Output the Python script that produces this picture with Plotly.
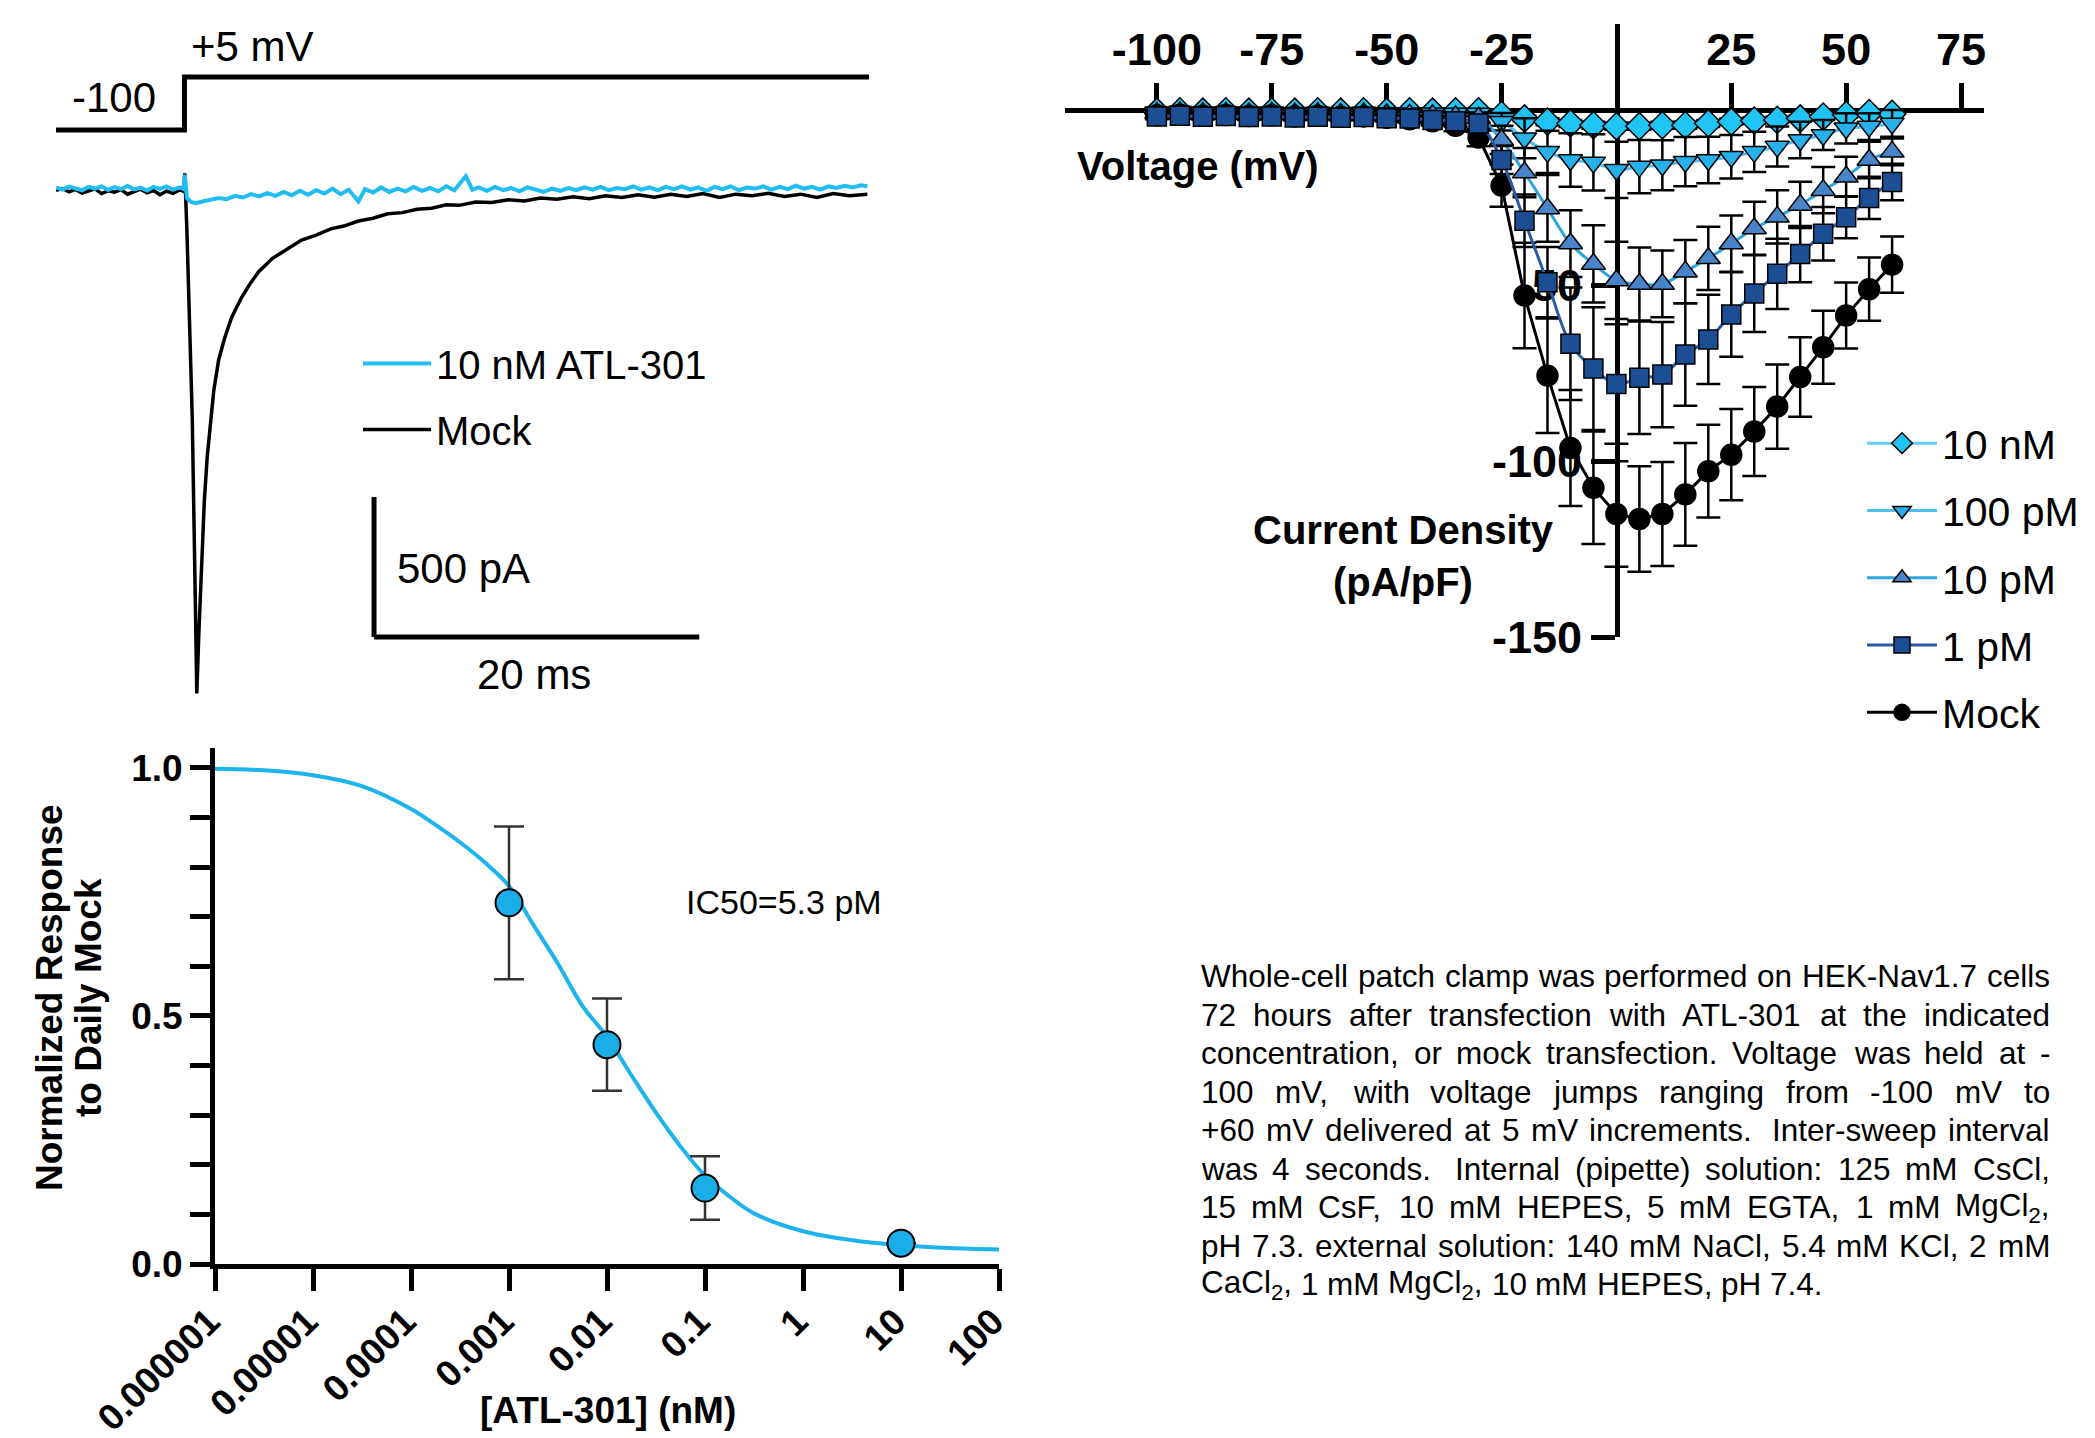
import re
import plotly.graph_objects as go

# page body has an 8px margin; figure is sized to fit the 2095x1438 window exactly
OFF = 8
W, H = 2095 - OFF, 1438 - OFF
def px(x): return (x - OFF) / W
def py(y): return 1 - (y - OFF) / H

FONT = "Liberation Sans, Arial, Helvetica, sans-serif"
CYAN = "#1fbdf2"

# ---------------- Panel A: current traces ----------------
protocol_t = [0, 7.9, 7.9, 50]
protocol_mv = [-100, -100, 5, 5]

mock_t = [0.0, 0.4, 0.8, 1.2, 1.6, 2.0, 2.4, 2.8, 3.2, 3.6, 4.0, 4.4, 4.8, 5.2, 5.6, 6.0, 6.4, 6.8, 7.2, 7.6, 7.85,
          7.92, 8.05, 8.2, 8.38, 8.56, 8.66, 8.78, 8.95, 9.12, 9.3, 9.5, 9.7, 10.0, 10.35, 10.8, 11.4, 11.9, 12.45,
          13.3, 14.2, 15.1, 16.0, 16.9, 17.7, 18.6, 19.5, 20.4, 21.3, 22.2, 23.1, 24.0, 24.8, 25.8, 26.8, 27.8, 28.8,
          29.8, 30.8, 31.8, 32.8, 33.8, 34.8, 35.8, 36.8, 37.8, 38.8, 39.8, 40.8, 41.8, 42.8, 43.8, 44.8, 45.8, 46.8,
          47.8, 48.8, 49.9]
mock_pa = [-8, -2, -14, -5, -18, -9, -3, -20, -10, -15, -6, -22, -12, -4, -17, -9, -24, -11, -19, -7, -12,
           52, -150, -480, -820, -1450, -1805, -1600, -1330, -1120, -960, -830, -725, -615, -540, -462, -392, -345, -300,
           -252, -218, -186, -168, -146, -136, -118, -108, -92, -88, -76, -72, -60, -62, -50, -52, -42, -46,
           -36, -40, -31, -38, -28, -34, -24, -33, -22, -30, -20, -34, -22, -28, -19, -30, -22, -34,
           -20, -28, -22]

atl_t = [0.0, 0.4, 0.8, 1.2, 1.6, 2.0, 2.4, 2.8, 3.2, 3.6, 4.0, 4.4, 4.8, 5.2, 5.6, 6.0, 6.4, 6.8, 7.2, 7.6, 7.85,
         7.92, 8.05, 8.3, 8.6, 9.0, 9.5, 10.0, 10.5, 11.0, 11.5, 12.0, 12.5, 13.0, 13.5, 14.0, 14.5, 15.0, 15.5, 16.0,
         16.5, 17.0, 17.5, 18.0, 18.6, 19.0, 19.5, 20.0, 20.5, 21.0, 21.5, 22.0, 22.5, 23.0, 23.5, 24.0, 24.5, 25.2,
         25.6, 26.0, 26.5, 27.0, 27.5, 28.0, 28.5, 29.0, 29.5, 30.0, 30.5, 31.0, 31.5, 32.0, 32.5, 33.0, 33.5, 34.0,
         34.5, 35.0, 35.5, 36.0, 36.5, 37.0, 37.5, 38.0, 38.5, 39.0, 39.5, 40.0, 40.5, 41.0, 41.5, 42.0, 42.5, 43.0,
         43.5, 44.0, 44.5, 45.0, 45.5, 46.0, 46.5, 47.0, 47.5, 48.0, 48.5, 49.0, 49.5, 49.9]
atl_pa = [2, -6, 5, -3, -8, 4, -2, 6, -7, 3, -4, 7, -5, 1, -9, 4, -3, 6, -6, 2, -4,
          48, -35, -50, -54, -48, -42, -36, -40, -28, -34, -22, -30, -18, -28, -14, -26, -10, -24, -8,
          -20, -2, -22, -6, -48, -4, -16, 2, -14, -2, -12, 4, -10, 0, -12, 6, -8, 42,
          -6, 2, -10, 4, -8, 0, -12, 2, -6, -14, -2, -10, 0, -8, 2, -6, 4, -8,
          0, -4, 6, -6, 2, -8, 4, -4, 6, -6, 2, -10, 4, -4, 6, -8, 2, -2,
          6, -6, 4, -4, 8, -2, 4, -6, 6, 0, 8, 2, 10, 6]

# ---------------- Panel B: I-V curves ----------------
voltage = [-100, -95, -90, -85, -80, -75, -70, -65, -60, -55, -50, -45, -40, -35,
           -30, -25, -20, -15, -10, -5, 0, 5, 10, 15, 20, 25, 30, 35, 40, 45, 50, 55, 60]
iv_mock = [-1.5, -1.3, -1.6, -1.4, -1.7, -1.5, -1.8, -1.6, -1.9, -1.8, -2.2, -2.6, -3.2, -4.5,
           -7.8, -21.5, -52.8, -75.6, -96.2, -107.5, -115.0, -116.4, -115.0, -109.4, -102.8, -98.1, -91.5,
           -84.4, -76.0, -67.5, -58.5, -51.0, -44.0]
iv_mock_err = [0.8, 0.8, 0.8, 0.8, 0.8, 0.8, 0.8, 0.8, 0.8, 0.8, 0.9, 1.0, 1.2, 1.5,
               2.5, 6.0, 15.0, 16.3, 16.5, 16.0, 15.0, 15.0, 14.8, 14.6, 13.2, 13.0, 12.7, 12.0, 11.3, 10.4, 9.4,
               9.0, 8.0]
iv_1pm = [-1.8, -1.6, -1.9, -1.7, -2.0, -1.8, -2.1, -1.9, -2.2, -2.0, -2.3, -2.4, -2.8, -3.2,
          -3.8, -14.2, -31.5, -49.0, -66.5, -73.6, -78.0, -76.2, -75.3, -69.6, -65.3, -58.2, -52.2, -46.6,
          -41.0, -35.2, -30.5, -25.0, -20.5]
iv_1pm_err = [0.8, 0.8, 0.8, 0.8, 0.8, 0.8, 0.8, 0.8, 0.8, 0.8, 0.9, 1.0, 1.2, 1.5,
              2.0, 4.0, 7.5, 10.0, 16.0, 17.5, 17.0, 16.0, 15.0, 14.6, 12.7, 12.0, 11.0, 10.0, 8.0, 7.6, 6.0,
              6.0, 5.2]
iv_10pm = [-0.8, -0.7, -0.9, -0.8, -1.0, -0.8, -1.0, -0.9, -1.1, -1.0, -1.2, -1.3, -1.5, -1.8,
           -2.2, -8.5, -17.8, -28.0, -38.0, -43.8, -48.5, -49.5, -49.5, -46.0, -42.2, -38.0, -33.7, -30.4,
           -27.0, -22.8, -19.0, -14.2, -11.9]
iv_10pm_err = [0.6, 0.6, 0.6, 0.6, 0.6, 0.6, 0.6, 0.6, 0.6, 0.6, 0.7, 0.8, 0.9, 1.0,
               1.5, 4.0, 7.0, 9.5, 9.5, 11.0, 11.0, 10.4, 9.5, 9.0, 9.0, 8.0, 7.6, 7.6, 6.6, 6.6, 5.7, 5.2, 3.8]
iv_100pm = [-0.6, -0.5, -0.7, -0.6, -0.7, -0.6, -0.8, -0.7, -0.8, -0.7, -0.8, -0.9, -0.9, -1.0,
            -1.0, -3.3, -8.0, -11.9, -14.2, -14.9, -17.0, -16.1, -15.7, -14.7, -14.2, -13.3, -11.9, -10.4,
            -8.5, -7.1, -5.2, -4.7, -3.8]
iv_100pm_err = [0.5, 0.5, 0.5, 0.5, 0.5, 0.5, 0.5, 0.5, 0.5, 0.5, 0.5, 0.6, 0.6, 0.7,
                1.0, 2.5, 5.7, 6.0, 7.6, 8.0, 8.0, 7.6, 7.1, 7.0, 6.6, 6.2, 5.7, 5.7, 5.2, 4.3, 4.3, 3.8, 3.8]
iv_10nm = [-0.5, -0.4, -0.5, -0.4, -0.5, -0.4, -0.5, -0.4, -0.5, -0.4, -0.5, -0.4, -0.5, -0.4,
           -0.4, -1.4, -2.4, -3.3, -3.8, -4.3, -4.6, -4.6, -4.3, -4.3, -3.8, -3.3, -3.0, -2.8, -2.4, -1.9,
           -1.4, -0.9, -1.1]
iv_10nm_err = [0.3, 0.3, 0.3, 0.3, 0.3, 0.3, 0.3, 0.3, 0.3, 0.3, 0.3, 0.3, 0.3, 0.3,
               0.4, 0.6, 0.8, 1.0, 1.0, 1.0, 1.0, 1.0, 1.0, 1.0, 1.0, 0.9, 0.9, 0.9, 0.8, 0.8, 0.7, 0.7, 0.6]
iv_xticks = [-100, -75, -50, -25, 25, 50, 75]
iv_xticktext = ["-100", "-75", "-50", "-25", "25", "50", "75"]
iv_yticks = [-50, -100, -150]
iv_yticktext = ["-50", "-100", "-150"]

# ---------------- Panel C: dose-response ----------------
dose_x = [0.001, 0.01, 0.1, 10]
dose_y = [0.728, 0.442, 0.153, 0.042]
dose_err = [0.154, 0.093, 0.064, 0.0]
fit_x = [1e-6, 3.16e-6, 1e-5, 3.16e-5, 1e-4, 1.78e-4, 3.16e-4, 5.62e-4, 1e-3, 1.78e-3, 3.16e-3, 5.62e-3,
         1e-2, 1.78e-2, 3.16e-2, 5.62e-2, 0.1, 0.178, 0.316, 1, 3.16, 10, 31.6, 100]
fit_y = [0.998, 0.995, 0.985, 0.963, 0.917, 0.885, 0.850, 0.810, 0.762, 0.683, 0.605, 0.520,
         0.458, 0.380, 0.305, 0.237, 0.178, 0.136, 0.102, 0.066, 0.048, 0.038, 0.032, 0.029]
dose_tickvals = [1e-6, 1e-5, 1e-4, 1e-3, 1e-2, 1e-1, 1, 10, 100]
dose_ticktext = ["0.000001", "0.00001", "0.0001", "0.001", "0.01", "0.1", "1", "10", "100"]

fig = go.Figure()

# Panel A traces
fig.add_trace(go.Scatter(x=protocol_t, y=protocol_mv, mode="lines", line=dict(color="black", width=5),
                         xaxis="x2", yaxis="y2", showlegend=False, hoverinfo="skip"))
fig.add_trace(go.Scatter(x=mock_t, y=mock_pa, mode="lines", name="Mock", line=dict(color="black", width=3.5),
                         xaxis="x", yaxis="y", legend="legend2", legendgroup="amock", legendrank=2))
fig.add_trace(go.Scatter(x=atl_t, y=atl_pa, mode="lines", name="10 nM ATL-301", line=dict(color=CYAN, width=4),
                         xaxis="x", yaxis="y", legend="legend2", legendgroup="aatl", legendrank=1))

# Panel B traces (drawn from lightest to darkest so dark markers sit on top near the axis)
iv_series = [
    ("10 nM", iv_10nm, iv_10nm_err, "diamond", "#20c4f4", "#62cdf3", "spline", 1, 21),
    ("100 pM", iv_100pm, iv_100pm_err, "triangle-down", "#27b0ea", "#4cbef0", "spline", 2, 21),
    ("10 pM", iv_10pm, iv_10pm_err, "triangle-up", "#4a84c8", "#2ea4dc", "spline", 3, 21),
    ("Mock", iv_mock, iv_mock_err, "circle", "black", "black", "linear", 5, 21),
    ("1 pM", iv_1pm, iv_1pm_err, "square", "#1c4e94", "#2a5aa3", "spline", 4, 19),
]
for name, vals, err, sym, fill, lcol, shape, rank, msize in iv_series:
    fig.add_trace(go.Scatter(
        x=voltage, y=vals, mode="lines+markers", name=name,
        line=dict(color=lcol, width=3, shape=shape),
        marker=dict(symbol=sym, size=msize, color=fill, line=dict(color="black", width=1.5)),
        error_y=dict(type="data", array=err, color="black", thickness=2.5, width=12),
        xaxis="x3", yaxis="y3", legend="legend", legendgroup="iv" + name, legendrank=rank))

# Panel C traces
fig.add_trace(go.Scatter(x=fit_x, y=fit_y, mode="lines", line=dict(color="#1db4ee", width=4, shape="spline"),
                         xaxis="x4", yaxis="y4", showlegend=False, hoverinfo="skip"))
fig.add_trace(go.Scatter(x=dose_x, y=dose_y, mode="markers",
                         marker=dict(size=27, color="#1aaee8", line=dict(color="black", width=2)),
                         error_y=dict(type="data", array=dose_err, color="#333333", thickness=2.5, width=15),
                         xaxis="x4", yaxis="y4", showlegend=False))

bold = lambda s: dict(family=FONT, size=s, color="black", weight="bold")
reg = lambda s: dict(family=FONT, size=s, color="black")

fig.update_layout(
    width=W, height=H, margin=dict(l=0, r=0, t=0, b=0, pad=0, autoexpand=False),
    paper_bgcolor="white", plot_bgcolor="rgba(0,0,0,0)",
    xaxis=dict(domain=[px(56), px(869)], range=[0, 50], visible=False, anchor="y", automargin=False),
    yaxis=dict(domain=[py(700), py(170)], range=[-(700 - 188) / 0.28, (188 - 170) / 0.28], visible=False,
               anchor="x", automargin=False),
    xaxis2=dict(domain=[px(56), px(869)], range=[0, 50], visible=False, anchor="y2", automargin=False),
    yaxis2=dict(domain=[py(140), py(60)], range=[-119.8, 38.7], visible=False, anchor="x2", automargin=False),
    xaxis3=dict(domain=[px(1065), px(1984)], range=[-120, 80], anchor="free", position=py(110), side="top",
                showline=True, linewidth=5, linecolor="black", ticks="outside", ticklen=25, tickwidth=5,
                tickcolor="black", tickvals=iv_xticks, ticktext=iv_xticktext, tickfont=bold(45),
                showgrid=False, zeroline=False, layer="below traces", automargin=False),
    yaxis3=dict(domain=[py(637), py(24)], range=[-150, 24.5], anchor="free", position=px(1617), side="left",
                showline=True, linewidth=5, linecolor="black", ticks="outside", ticklen=24, tickwidth=5,
                tickcolor="black", tickvals=iv_yticks, ticktext=iv_yticktext, tickfont=bold(45),
                showgrid=False, zeroline=False, layer="below traces", automargin=False),
    xaxis4=dict(domain=[px(215), px(999)], type="log", range=[-6, 2], anchor="y4", showline=True, linewidth=5,
                linecolor="black", ticks="outside", ticklen=22, tickwidth=4.5, tickcolor="black",
                tickvals=dose_tickvals, ticktext=dose_ticktext, tickangle=-45, tickfont=bold(37),
                ticklabelstandoff=-6, ticklabelshift=-6,
                showgrid=False, zeroline=False, automargin=False),
    yaxis4=dict(domain=[py(1264), py(748)], range=[0, 1.04], anchor="x4", showline=True, linewidth=5,
                linecolor="black", ticks="outside", ticklen=20, tickwidth=4.5, tickcolor="black",
                tickvals=[0, 0.5, 1.0], ticktext=["0.0", "0.5", "1.0"], tickfont=bold(37),
                minor=dict(ticks="outside", dtick=0.1, ticklen=20, tickwidth=4.5, tickcolor="black"),
                showgrid=False, zeroline=False, automargin=False),
    legend=dict(x=px(1862), y=py(410), xanchor="left", yanchor="top", font=reg(41),
                bgcolor="rgba(0,0,0,0)", tracegroupgap=11, itemwidth=70),
    legend2=dict(x=px(358), y=py(331), xanchor="left", yanchor="top", font=reg(40),
                 bgcolor="rgba(0,0,0,0)", tracegroupgap=11, itemwidth=68),
)

# Scale bars (500 pA, 20 ms)
fig.add_shape(type="line", xref="x", yref="y", x0=19.56, x1=19.56, y0=-1604, y1=-1104,
              line=dict(color="black", width=5))
fig.add_shape(type="line", xref="x", yref="y", x0=19.56, x1=39.56, y0=-1604, y1=-1604,
              line=dict(color="black", width=5))

def ann(text, x, y, font, xanchor="center", yanchor="middle", angle=0):
    fig.add_annotation(text=text, x=px(x), y=py(y), xref="paper", yref="paper", showarrow=False,
                       font=font, xanchor=xanchor, yanchor=yanchor, textangle=angle)

ann("+5 mV", 252, 47, reg(42))
ann("-100", 114, 98, reg(42))
ann("500 pA", 463, 568, reg(42))
ann("20 ms", 534, 675, reg(42))
ann("Voltage (mV)", 1198, 166, bold(40))
ann("Current Density", 1403, 530, bold(40))
ann("(pA/pF)", 1403, 582, bold(40))
ann("IC50=5.3 pM", 784, 902, reg(34))
ann("[ATL-301] (nM)", 608, 1410, bold(37))
ann("Normalized Response", 49, 998, bold(37), angle=-90)
ann("to Daily Mock", 88, 998, bold(37), angle=-90)

# Justified paragraph
AW = {' ': 278, '(': 333, ')': 333, '+': 584, ',': 278, '-': 333, '.': 278, ':': 278,
      'A': 667, 'B': 667, 'C': 722, 'D': 722, 'E': 667, 'F': 611, 'G': 778, 'H': 722, 'I': 278, 'J': 500,
      'K': 667, 'L': 556, 'M': 833, 'N': 722, 'O': 778, 'P': 667, 'Q': 778, 'R': 722, 'S': 667, 'T': 611,
      'U': 722, 'V': 667, 'W': 944, 'X': 667, 'Y': 667, 'Z': 611,
      'a': 556, 'b': 556, 'c': 500, 'd': 556, 'e': 556, 'f': 278, 'g': 556, 'h': 556, 'i': 222, 'j': 222,
      'k': 500, 'l': 222, 'm': 833, 'n': 556, 'o': 556, 'p': 556, 'q': 556, 'r': 333, 's': 500, 't': 278,
      'u': 556, 'v': 500, 'w': 722, 'x': 500, 'y': 500, 'z': 500}

def word_w(word, size):
    w, sub, i = 0.0, False, 0
    while i < len(word):
        if word.startswith("<sub>", i):
            sub, i = True, i + 5
            continue
        if word.startswith("</sub>", i):
            sub, i = False, i + 6
            continue
        w += AW.get(word[i], 556) * (0.7 if sub else 1.0)
        i += 1
    return w * size / 1000.0

para_lines = [
    "Whole-cell patch clamp was performed on HEK-Nav1.7 cells",
    "72 hours after transfection with ATL-301 at the indicated",
    "concentration, or mock transfection. Voltage was held at -",
    "100 mV, with voltage jumps ranging from -100 mV to",
    "+60 mV delivered at 5 mV increments.  Inter-sweep interval",
    "was 4 seconds.  Internal (pipette) solution: 125 mM CsCl,",
    "15 mM CsF, 10 mM HEPES, 5 mM EGTA, 1 mM MgCl<sub>2</sub>,",
    "pH 7.3. external solution: 140 mM NaCl, 5.4 mM KCl, 2 mM",
    "CaCl<sub>2</sub>, 1 mM MgCl<sub>2</sub>, 10 mM HEPES, pH 7.4.",
]
PF = 31.5
left, right = 1200, 2049
for li, line in enumerate(para_lines):
    yline = 976 + 38.5 * li
    words = line.split()
    gaps = [len(g) for g in re.findall(r" +", line.strip())]
    sw = AW[' '] * PF / 1000.0
    widths = [word_w(w_, PF) for w_ in words]
    last = li == len(para_lines) - 1
    base = sum(widths) + sum(g * sw for g in gaps)
    extra = 0 if last or not gaps else (right - left - base) / len(gaps)
    xcur = left
    for wi, w_ in enumerate(words):
        fig.add_annotation(text=w_, x=px(xcur), y=py(yline), xref="paper", yref="paper", showarrow=False,
                           font=reg(PF), xanchor="left", yanchor="middle", borderpad=0)
        xcur += widths[wi]
        if wi < len(gaps):
            xcur += gaps[wi] * sw + extra

fig.write_html("out.html")
